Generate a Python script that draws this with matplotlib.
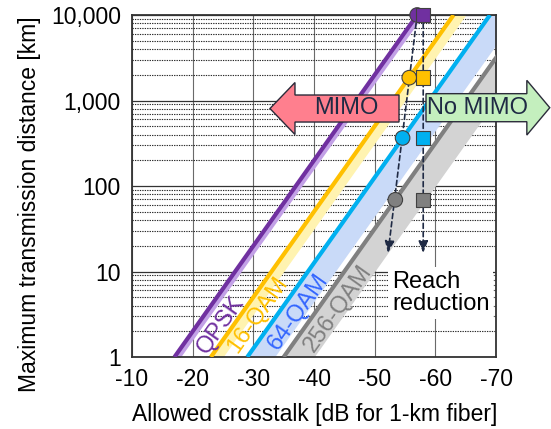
import numpy as np
import matplotlib
matplotlib.use("Agg")
import matplotlib.pyplot as plt
from matplotlib.patches import FancyArrow
from matplotlib.ticker import FixedLocator, FixedFormatter, LogLocator, NullFormatter

plt.rcParams["font.family"] = ["Liberation Sans", "DejaVu Sans"]
plt.rcParams["axes.unicode_minus"] = False

# modulation formats: allowed crosstalk where each curve hits 1 km and 10,000 km
formats = ["QPSK", "16-QAM", "64-QAM", "256-QAM"]
xt_at_1km = [-17.0, -23.0, -29.0, -35.0]
xt_at_10000km = [-57.0, -63.0, -69.0, -75.0]
line_dist = [1, 10000]
band_width = [1.0, 2.0, 4.5, 5.0]
line_colors = ["#7030A0", "#FFC000", "#00B0F0", "#808080"]
band_colors = ["#C2A0E6", "#FFF3B0", "#C9DAF8", "#D3D3D3"]
text_colors = ["#7030A0", "#FFC000", "#3366FF", "#808080"]
label_xt = [-24.6, -30.8, -37.4, -43.9]
label_dist = [2.37, 3.1, 3.36, 3.74]

# operating points: MIMO (circles, on the curves) vs no MIMO (squares)
mimo_xt = [-57.0, -55.7, -54.6, -53.4]
nomimo_xt = [-58.0, -58.0, -58.0, -58.0]
point_dist = [10000, 1850, 365, 69]
reach_tip_xt = [-52.2, -58.0]
reach_tip_dist = 16.5

x_ticks = [-10, -20, -30, -40, -50, -60, -70]
y_ticks = [1, 10, 100, 1000, 10000]
y_ticklabels = ["1", "10", "100", "1,000", "10,000"]

fig = plt.figure(figsize=(5.51, 4.29), dpi=100)
ax = fig.add_axes([0.2396, 0.1678, 0.6606, 0.7972])
ax.set_yscale("log")
ax.set_xlim(-10, -70)
ax.set_ylim(1, 10000)

# grid
ax.xaxis.set_major_locator(FixedLocator(x_ticks))
ax.yaxis.set_major_locator(FixedLocator(y_ticks))
ax.yaxis.set_major_formatter(FixedFormatter(y_ticklabels))
ax.yaxis.set_minor_locator(LogLocator(base=10, subs=np.arange(2, 10)))
ax.yaxis.set_minor_formatter(NullFormatter())
ax.grid(True, axis="x", which="major", color="#6a6a6a", lw=0.8)
ax.grid(True, axis="y", which="major", color="#333333", lw=0.9)
ax.grid(True, axis="y", which="minor", color="#2a2a2a", lw=0.8, ls=(0, (1.2, 1.0)))
ax.set_axisbelow(True)
ax.tick_params(which="both", length=0, labelsize=16.5, pad=8)
for s in ax.spines.values():
    s.set_color("#333333")
    s.set_linewidth(1.3)

ax.set_xlabel("Allowed crosstalk [dB for 1-km fiber]", fontsize=16.5)
ax.set_ylabel("Maximum transmission distance [km]", fontsize=16.5)
ax.xaxis.set_label_coords(0.503, -0.135)
ax.yaxis.set_label_coords(-0.25, 0.447)

# curves with their shaded margin bands
for i in range(len(formats)):
    xs = [xt_at_1km[i], xt_at_10000km[i]]
    xe = [x - band_width[i] for x in xs]
    ax.fill_betweenx(line_dist, xs, xe, color=band_colors[i], lw=0, zorder=2)
    ax.plot(xs, line_dist, color=line_colors[i], lw=3, zorder=3,
            solid_capstyle="butt")

fig.canvas.draw()
p1 = ax.transData.transform((xt_at_1km[0], line_dist[0]))
p2 = ax.transData.transform((xt_at_10000km[0], line_dist[1]))
angle = np.degrees(np.arctan2(p2[1] - p1[1], p2[0] - p1[0]))
for i in range(len(formats)):
    ax.text(label_xt[i], label_dist[i], formats[i], color=text_colors[i],
            fontsize=17, rotation=angle, rotation_mode="anchor",
            ha="center", va="center", zorder=4)

# reach-reduction dashed arrows
navy = "#1F2A44"
for x_start, x_tip in zip([mimo_xt[0], nomimo_xt[0]], reach_tip_xt):
    ax.annotate("", xy=(x_tip, reach_tip_dist), xytext=(x_start, point_dist[0]),
                arrowprops=dict(arrowstyle="-|>,head_length=0.7,head_width=0.28",
                                color=navy, lw=1.2, ls=(0, (3, 2)),
                                shrinkA=0, shrinkB=0),
                zorder=5)

ax.scatter(mimo_xt, point_dist, s=110, marker="o", c=line_colors,
           edgecolors="#404040", linewidths=0.8, zorder=6, clip_on=False)
ax.scatter(nomimo_xt, point_dist, s=110, marker="s", c=line_colors,
           edgecolors="#404040", linewidths=0.8, zorder=6, clip_on=False)

ax.text(0.714, 0.187, "Reach\nreduction", transform=ax.transAxes, fontsize=17,
        ha="left", va="center", linespacing=1.05, zorder=5,
        bbox=dict(boxstyle="square,pad=0.15", fc="white", ec="none"))

# MIMO / No MIMO block arrows
mimo = FancyArrow(0.7335, 0.7266, -0.3545, 0, width=0.079, head_width=0.152,
                  head_length=0.0687, length_includes_head=True,
                  transform=ax.transAxes, clip_on=False, fc="#FF7F8E",
                  ec="#2b2b3a", lw=1.0, zorder=7)
nomimo = FancyArrow(0.8077, 0.729, 0.34, 0, width=0.082, head_width=0.16,
                    head_length=0.063, length_includes_head=True,
                    transform=ax.transAxes, clip_on=False, fc="#C4EFBE",
                    ec="#2b2b3a", lw=1.0, zorder=7)
ax.add_patch(mimo)
ax.add_patch(nomimo)
ax.text(0.59, 0.727, "MIMO", transform=ax.transAxes, fontsize=17, color=navy,
        ha="center", va="center", zorder=8)
ax.text(0.95, 0.727, "No MIMO", transform=ax.transAxes, fontsize=17, color=navy,
        ha="center", va="center", zorder=8)

fig.savefig("out.png", dpi=100)
